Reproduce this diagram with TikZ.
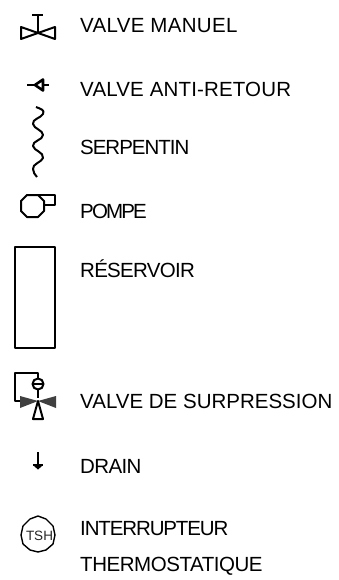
\documentclass[tikz,border=0pt]{standalone}
\usepackage{fontspec}
\setmainfont{Liberation Sans}
\newcommand\lsp[1]{\addfontfeature{LetterSpace=#1}}
\begin{document}
\begin{tikzpicture}[x=1pt,y=-1pt,
  sym/.style={line width=2pt,line join=round,black},
  lab/.style={anchor=base west,inner sep=0pt,font=\fontsize{20.5}{24}\selectfont,text=black}]
\useasboundingbox (0,0) rectangle (338,580);
\fill[white] (0,0) rectangle (338,580);
% valve manuel
\draw[sym] (32,15)--(43,15) (37.5,15)--(37.5,33);
\draw[sym] (21,27)--(21,39)--(55,27)--(55,39)--cycle;
\node[lab] (t1) at (80,33) {\lsp{1.5}VALVE MANUEL};
% check valve
\draw[sym] (27,85)--(35,85) (44,85)--(49,85);
\draw[sym,line width=2.6pt] (35,85)--(43,79.5)--(43,90.5)--cycle;
\node[lab] (t2) at (80,97) {\lsp{0.8}VALVE ANTI-RETOUR};
% serpentin
\draw[sym] (36,107) .. controls (41,109) and (45,110) .. (43,114) .. controls (41,118) and (32,119) .. (33,124) .. controls (34,129) and (43,130) .. (43,135) .. controls (43,140) and (32,141) .. (33,146) .. controls (34,151) and (44,152) .. (43,158) .. controls (42,162) and (32,164) .. (33,169) .. controls (33,172) and (35,175) .. (37,177);
\node[lab] (t3) at (80,155) {\lsp{-5}SERPENTIN};
% pompe
\draw[sym] (38,195)--(55,195)--(55,205)--(43,205);
\draw[sym] (27,195)--(38,195)--(44,201)--(44,211)--(38,217)--(27,217)--(21,211)--(21,201)--cycle;
\node[lab] (t4) at (80,218) {\lsp{-9}POMPE};
% reservoir
\draw[sym] (15,247) rectangle (55,348);
\node[lab] (t5) at (80,277) {\lsp{-3.5}RÉSERVOIR};
% surpression
\draw[sym] (38,379)--(38,373)--(15,373)--(15,401)--(21,401);
\draw[sym] (38,384) circle (5.5);
\draw[sym] (33,384)--(43,384) (38,390)--(38,398);
\fill[black!75] (20,396)--(38,401)--(56,396)--(56,408)--(38,401)--(20,408)--cycle;
\draw[sym] (38,401)--(33,419)--(43,419)--cycle;
\node[lab] (t6) at (80,408) {VALVE DE SURPRESSION};
% drain
\draw[sym] (38,452)--(38,467) (33,465)--(43,465);
\fill (34,466)--(42,466)--(38,469.5)--cycle;
\node[lab] (t7) at (80,473) {\lsp{-3}DRAIN};
% TSH
\draw[line width=1.4pt] (38,516)--(46,519)--(53,526)--(55,535)--(53,544)--(46,550)--(38,552)--(30,550)--(23,544)--(21,535)--(23,526)--(30,519)--cycle;
\node[inner sep=0pt,font=\fontsize{13.5}{14}\selectfont,text=black!85] (t8s) at (39.5,536) {TSH};
\node[lab] (t8) at (80,535) {\lsp{-5.5}INTERRUPTEUR};
\node[lab] (t9) at (80,571) {\lsp{-2.2}THERMOSTATIQUE};
\end{tikzpicture}
\end{document}
